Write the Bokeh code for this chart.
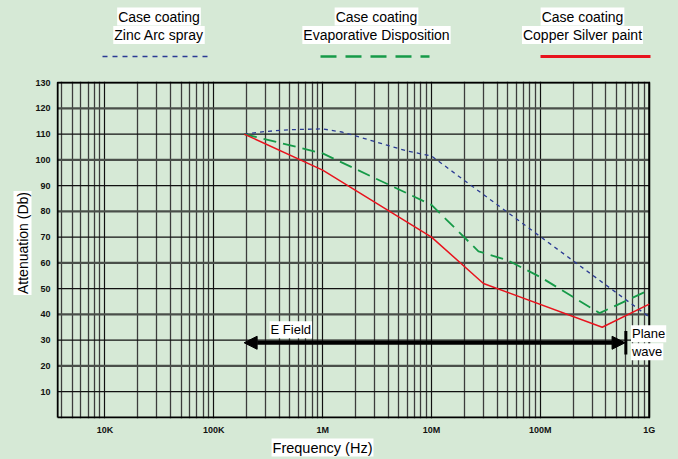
import math
from bokeh.plotting import figure
from bokeh.models import Range1d, FixedTicker, Label, Arrow, NormalHead
from bokeh.layouts import column, row
from bokeh.embed import file_html
from bokeh.resources import INLINE

# ---------------- data ----------------
freq_zinc = [1.9e5, 3e5, 5e5, 1e6, 1.5e6, 2e6, 3.5e6, 6e6, 1e7, 2e7, 1e8, 1e9]
att_zinc = [110, 111, 111.7, 112, 110.8, 109.3, 106.3, 103.4, 101.5, 92, 70.2, 39]

freq_evap = [1.9e5, 1e6, 1e7, 2.7e7, 5e7, 1e8, 3.5e8, 1e9]
att_evap = [110, 102.5, 82.5, 64.5, 61, 54.5, 40.5, 49.5]

freq_copper = [1.9e5, 1e6, 1e7, 3e7, 3.7e8, 1e9]
att_copper = [110, 96, 70, 52, 35, 44]

series_names = ["Zinc Arc spray", "Evaporative Disposition", "Copper Silver paint"]
legend_header = "Case coating"

x_ticks = [1e4, 1e5, 1e6, 1e7, 1e8, 1e9]
x_tick_labels = ["10K", "100K", "1M", "10M", "100M", "1G"]
y_ticks = [10, 20, 30, 40, 50, 60, 70, 80, 90, 100, 110, 120, 130]

frame_x = [10 ** 3.565, 1e9]     # chart frame: left edge .. 1G
frame_y = [0, 130]

efield_span = [1.9e5, 6e8]
efield_level = 29
plane_bar_freq = 6.1e8
plane_bar_span = [24.4, 33.6]

# ---------------- style ----------------
BG = "#d6e9d6"
BLUE = "#2b3b94"
GREEN = "#169a48"
RED = "#e8141e"
SANS = "Liberation Sans"

W = 678

def txt_label(fig, x, y, txt, size, align="center", angle=0):
    lab = Label(x=x, y=y, text=txt, text_align=align, text_baseline="middle",
                text_font=SANS, text_font_size=size, text_color="black",
                background_fill_color="white", angle=angle)
    if "padding" in lab.properties():
        lab.padding = 1
    fig.add_layout(lab)

def strip(w, h, flip=True):
    f = figure(width=w, height=h, x_range=Range1d(0, w),
               y_range=Range1d(h, 0) if flip else Range1d(0, h),
               toolbar_location=None, output_backend="svg",
               x_axis_location=None, y_axis_location=None, min_border=0,
               background_fill_color=BG, border_fill_color=BG, outline_line_color=None)
    f.grid.visible = False
    return f

# ---------------- legend strip ----------------
LH = 74
lf = strip(W, LH)
leg_cx = [158.5, 376, 582]
leg_x0 = [102, 320, 540]
leg_x1 = [208, 429, 650]
leg_styles = [dict(color=BLUE, line_width=1.6, line_dash="5 5"),
              dict(color=GREEN, line_width=2.4, line_dash="16 9"),
              dict(color=RED, line_width=3)]
for cx, x0, x1, name, st in zip(leg_cx, leg_x0, leg_x1, series_names, leg_styles):
    txt_label(lf, cx, 16, legend_header, "14px")
    txt_label(lf, cx, 34.5, name, "14px")
    lf.line([x0, x1], [56, 56], **st)

# ---------------- main chart ----------------
MH = 363
YW = 32
p = figure(width=W - YW, height=MH, x_axis_type="log",
           x_range=Range1d(10 ** 3.555, 10 ** 9.269), y_range=Range1d(-0.4, 130.4),
           toolbar_location=None, output_backend="svg",
           min_border_left=22, min_border_right=0, min_border_top=7, min_border_bottom=18,
           background_fill_color=BG, border_fill_color=BG, outline_line_color=None)

minor_x = [k * 10 ** n for n in range(3, 9) for k in range(2, 10)
           if frame_x[0] < k * 10 ** n < frame_x[1]]
p.xaxis.ticker = FixedTicker(ticks=x_ticks, minor_ticks=minor_x)
p.xaxis.major_label_overrides = {t: l for t, l in zip(x_ticks, x_tick_labels)}
p.yaxis.ticker = FixedTicker(ticks=y_ticks)

for ax in (p.xaxis[0], p.yaxis[0]):
    ax.axis_line_color = None
    ax.major_tick_line_color = None
    ax.minor_tick_line_color = None
    ax.major_tick_out = 0
    ax.major_tick_in = 0
    ax.minor_tick_out = 0
    ax.major_label_text_font = SANS
    ax.major_label_text_font_style = "bold"
    ax.major_label_text_font_size = "9px"
    ax.major_label_text_color = "#111111"
p.xaxis.major_label_standoff = 6
p.yaxis.major_label_standoff = 6

# vertical grid (decades and 2..9 subdivisions)
p.xgrid.grid_line_color = "#111111"
p.xgrid.grid_line_width = 1.2
p.xgrid.minor_grid_line_color = "#3c3c3c"
p.xgrid.minor_grid_line_width = 1.3
# horizontal grid, limited to the chart frame (ends at 1G)
p.ygrid.visible = False
odd_t = y_ticks[0::2]
even_t = y_ticks[1::2]
p.segment([frame_x[0]] * len(odd_t), odd_t, [frame_x[1]] * len(odd_t), odd_t,
          color="#111111", line_width=1.2)
p.segment([frame_x[0]] * len(even_t), even_t, [frame_x[1]] * len(even_t), even_t,
          color="#4a4f4a", line_width=2.2)

# frame box
p.line([frame_x[0], frame_x[1], frame_x[1], frame_x[0], frame_x[0]],
       [frame_y[0], frame_y[0], frame_y[1], frame_y[1], frame_y[0]],
       color="black", line_width=2)

# series
p.line(freq_zinc, att_zinc, color=BLUE, line_width=1.3, line_dash="4 4")
p.line(freq_evap, att_evap, color=GREEN, line_width=1.8, line_dash="13 7")
p.line(freq_copper, att_copper, color=RED, line_width=1.5)

# E field arrow
arr = Arrow(x_start=efield_span[0], y_start=efield_level, x_end=efield_span[1], y_end=efield_level,
            line_width=4, line_color="black",
            start=NormalHead(size=13, fill_color="black", line_color="black"),
            end=NormalHead(size=13, fill_color="black", line_color="black"))
p.add_layout(arr)
p.segment([plane_bar_freq], [plane_bar_span[0]], [plane_bar_freq], [plane_bar_span[1]],
          line_width=3, color="black")

txt_label(p, 5.1e5, 34, "E Field", "13px")
txt_label(p, 6.8e8, 32.5, "Plane", "13px", align="left")
txt_label(p, 6.8e8, 25.5, "wave", "13px", align="left")

# y axis title strip
ys = strip(YW, MH, flip=False)
txt_label(ys, 22, MH - 174, "Attenuation (Db)", "14px", angle=math.pi / 2)

# x axis title strip
BH = 459 - LH - MH
bs = strip(W, BH)
txt_label(bs, 322, 10, "Frequency (Hz)", "14.5px")

layout = column(lf, row(ys, p), bs)
html = file_html(layout, INLINE)
css = "<style>html, body { background-color: %s !important; }</style>" % BG
html = html.replace("</head>", css + "</head>", 1)
open("out.html", "w").write(html)
